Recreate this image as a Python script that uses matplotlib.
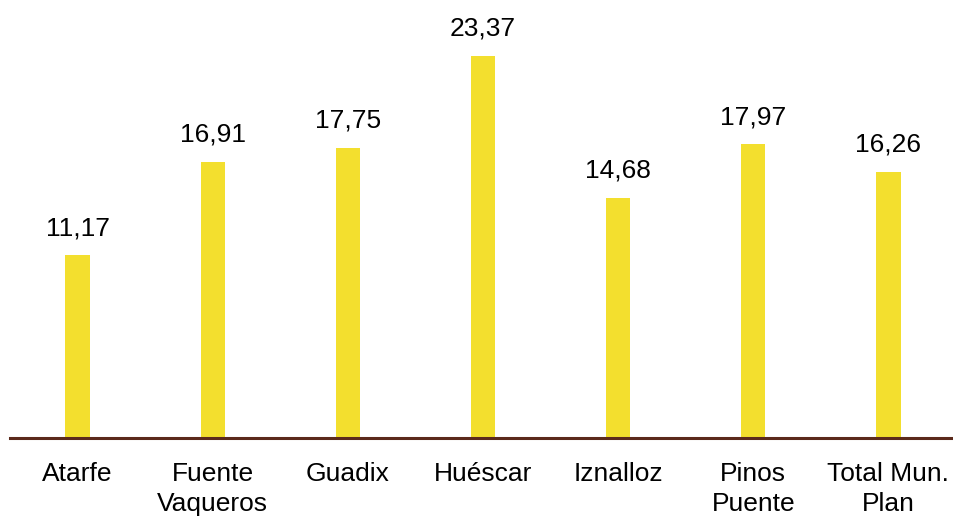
import matplotlib.pyplot as plt

categories = ["Atarfe", "Fuente\nVaqueros", "Guadix", "Huéscar", "Iznalloz", "Pinos\nPuente", "Total Mun.\nPlan"]
values = [11.17, 16.91, 17.75, 23.37, 14.68, 17.97, 16.26]
value_labels = ["11,17", "16,91", "17,75", "23,37", "14,68", "17,97", "16,26"]

plt.rcParams["font.family"] = ["Liberation Sans", "DejaVu Sans"]

fig = plt.figure(figsize=(9.54, 5.18), dpi=100)
ax = fig.add_axes([10 / 954, 80 / 518, 946 / 954, 438 / 518])

x = range(len(categories))
ax.bar(x, values, width=0.18, color="#F3DF2E")
for xi, v, lab in zip(x, values, value_labels):
    ax.annotate(lab, (xi, v), xytext=(0, 11), textcoords="offset points",
                ha="center", va="bottom", fontsize=19)

ax.set_xlim(-0.5, len(categories) - 0.5)
ax.set_ylim(0, 26.8)
ax.set_xticks(list(x))
ax.set_xticklabels(categories, fontsize=19, linespacing=1.32)
ax.tick_params(axis="x", length=0, pad=17)
ax.set_yticks([])
for side in ["top", "right", "left"]:
    ax.spines[side].set_visible(False)
ax.spines["bottom"].set_color("#5B2A1C")
ax.spines["bottom"].set_linewidth(2.2)

fig.savefig("out.png", dpi=100)
